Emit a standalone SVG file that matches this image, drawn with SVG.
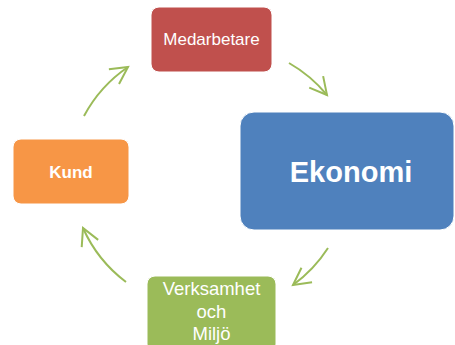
<svg xmlns="http://www.w3.org/2000/svg" width="455" height="345" viewBox="0 0 455 345">
  <defs>
    <style>
      .box { stroke: #ffffff; stroke-width: 1; }
      .lbl { fill: #ffffff; font-family: "Liberation Sans", Arial, sans-serif; text-anchor: middle; }
      .arc { fill: none; stroke: #9BBB59; stroke-width: 2; marker-end: url(#head); }
    </style>
    <marker id="head" markerUnits="userSpaceOnUse" markerWidth="30" markerHeight="30" refX="0" refY="0" viewBox="-20 -15 30 30" orient="auto" overflow="visible">
      <path d="M-17,-9 L0,0 L-17,9" fill="none" stroke="#9BBB59" stroke-width="2"/>
    </marker>
  </defs>
  <rect width="455" height="345" fill="#ffffff"/>
  <g id="connectors">
    <path class="arc" d="M289,63 A138,138 0 0 1 327,95"/>
    <path class="arc" d="M328,248 A138,138 0 0 1 293,285"/>
    <path class="arc" d="M126,282 A138,138 0 0 1 83,228"/>
    <path class="arc" d="M84,116 A138,138 0 0 1 128,67"/>
  </g>
  <g id="medarbetare">
    <rect class="box" x="151" y="7" width="121" height="65" rx="8" fill="#C0504D"/>
    <text class="lbl" x="211.5" y="45" font-size="17">Medarbetare</text>
  </g>
  <g id="ekonomi">
    <rect class="box" x="240" y="112" width="214" height="118" rx="14" fill="#4F81BD"/>
    <text class="lbl" x="351" y="182" font-size="29" font-weight="bold">Ekonomi</text>
  </g>
  <g id="kund">
    <rect class="box" x="13" y="139" width="116" height="65" rx="8" fill="#F79646"/>
    <text class="lbl" x="71" y="178" font-size="17" font-weight="bold">Kund</text>
  </g>
  <g id="verksamhet">
    <rect class="box" x="147" y="276" width="129" height="76" rx="8" fill="#9BBB59"/>
    <text class="lbl" x="211.5" y="295" font-size="18.5">Verksamhet</text>
    <text class="lbl" x="211.5" y="318" font-size="18.5">och</text>
    <text class="lbl" x="211.5" y="340" font-size="18.5">Miljö</text>
  </g>
</svg>
